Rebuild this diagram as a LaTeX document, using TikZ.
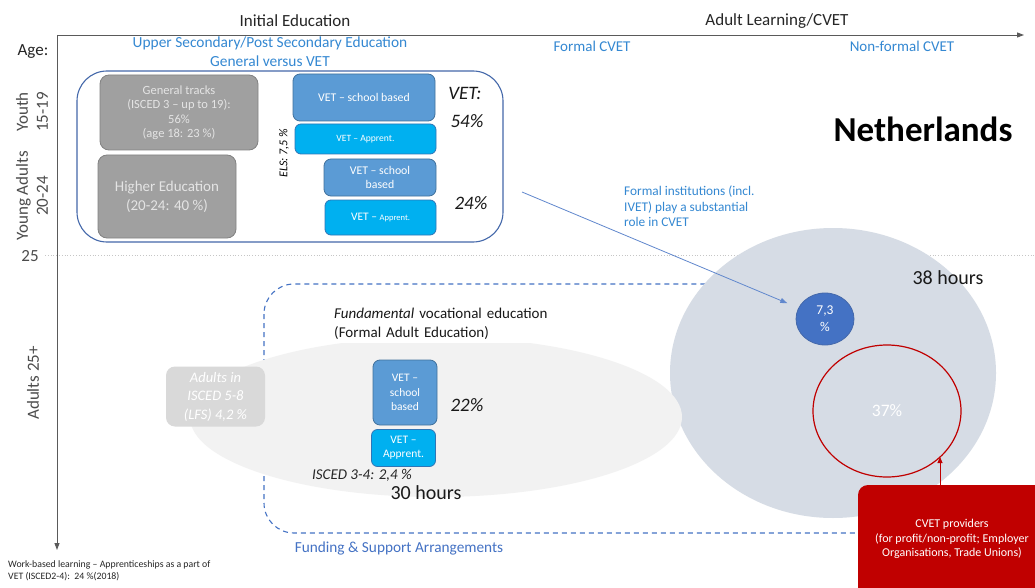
\documentclass[tikz,border=0pt]{standalone}
\usepackage{fontspec}
\setmainfont{Carlito}
\usetikzlibrary{arrows.meta,shapes.geometric}
\definecolor{txtblue}{RGB}{52,136,210}
\definecolor{fundblue}{RGB}{68,114,196}
\definecolor{frameblue}{RGB}{68,104,170}
\definecolor{boxgray}{RGB}{160,160,160}
\definecolor{boxgrayline}{RGB}{130,130,130}
\definecolor{boxtxt}{RGB}{228,228,228}
\definecolor{schoolblue}{RGB}{91,155,213}
\definecolor{schoolline}{RGB}{65,113,156}
\definecolor{apprblue}{RGB}{0,176,240}
\definecolor{apprline}{RGB}{46,117,182}
\definecolor{bigcirc}{RGB}{214,220,229}
\definecolor{ellfill}{RGB}{242,242,242}
\definecolor{lightbox}{RGB}{217,217,217}
\definecolor{darkred}{RGB}{192,0,0}
\definecolor{smallcirc}{RGB}{68,114,196}
\definecolor{axisgray}{RGB}{90,90,90}
\newcommand{\fsz}[2]{\fontsize{#1}{#2}\selectfont}
\tikzset{
  graybox/.style={draw=boxgrayline, fill=boxgray, rounded corners=9, text=boxtxt, align=center, line width=0.8},
  schoolbox/.style={draw=schoolline, fill=schoolblue, rounded corners=7, text=white, align=center, line width=0.8, font=\fsz{11.8}{14}},
  apprbox/.style={draw=apprline, fill=apprblue, rounded corners=6, text=white, align=center, line width=0.8, font=\fsz{9.6}{11}},
  bluelabel/.style={text=txtblue},
  axisarrow/.style={draw=axisgray, line width=0.9, -{Triangle[length=7pt,width=5pt]}},
  plain/.style={inner sep=0},
}
\begin{document}
\begin{tikzpicture}[x=1pt,y=-1pt]
\path[use as bounding box, fill=white] (0,0) rectangle (1035,588);
% dotted 25 line
\draw[gray!45, dotted, line width=0.8] (45,255) -- (1035,255);
% axes
\coordinate (origin) at (57,35);
\coordinate (xend) at (1024,35);
\coordinate (yend) at (57,550);
\draw[axisarrow] (origin) -- (xend);
\draw[axisarrow] (origin) -- (yend);
% axis labels
\node[plain, font=\fsz{17}{20}, text=black!85] (ie) at (295,21) {Initial Education};
\node[plain, font=\fsz{17}{20}, text=black!85] (al) at (777,21) {Adult Learning/CVET};
\node[plain, font=\fsz{17}{20}, text=black!85] (age) at (33,52) {Age:};
\node[plain, font=\fsz{17}{20}, text=black!70, rotate=90, align=center] (youth) at (32,112) {Youth\\15-19};
\node[plain, font=\fsz{17}{20}, text=black!70, rotate=90, align=center] (young) at (32,196) {Young Adults\\20-24};
\node[plain, font=\fsz{17}{20}, text=black!70] (q25) at (30,256) {25};
\node[plain, font=\fsz{17}{20}, text=black!70, rotate=90] (adults) at (33,383) {Adults 25+};
% blue headings
\node[plain, bluelabel, font=\fsz{15.4}{18}] (us) at (270,43) {Upper Secondary/Post Secondary Education};
\node[plain, bluelabel, font=\fsz{15.4}{18}] (gv) at (270,61) {General versus VET};
\node[plain, bluelabel, font=\fsz{15}{18}] (fc) at (592,46) {Formal CVET};
\node[plain, bluelabel, font=\fsz{15}{18}] (nfc) at (902,46) {Non-formal CVET};
% initial education frame
\draw[frameblue, line width=1.1, rounded corners=30] (77,71) rectangle (503,242);
\node[graybox, minimum width=158, minimum height=75, font=\fsz{12.5}{14.5}] (gen) at (179,112.5) {General tracks\\(ISCED 3 -- up to 19):\\56\%\\(age 18: 23 \%)};
\node[graybox, minimum width=138, minimum height=83, font=\fsz{15}{19}] (he) at (167,196.5) {Higher Education\\(20-24: 40 \%)};
\node[schoolbox, minimum width=142, minimum height=47] (vs1) at (364,97.5) {VET -- school based};
\node[apprbox, minimum width=141, minimum height=30] (va1) at (365.5,139) {VET -- Apprent.};
\node[schoolbox, minimum width=112, minimum height=37] (vs2) at (380,177.5) {VET -- school\\based};
\node[apprbox, minimum width=111, minimum height=35, font=\fsz{11.5}{13}] (va2) at (380.5,217.5) {VET -- {\fsz{8.5}{10}Apprent.}};
\node[plain, font=\fsz{12}{14}\itshape, rotate=90] (els) at (284,153) {ELS: 7,5 \%};
\node[plain, font=\fsz{19}{22}\itshape, text=black!90] (vetl) at (465,93) {VET:};
\node[plain, font=\fsz{19}{22}\itshape, text=black!90] (p54) at (467,121) {54\%};
\node[plain, font=\fsz{19}{22}\itshape, text=black!90] (p24) at (471,203) {24\%};
% Netherlands
\node[plain, font=\fsz{35}{40}\bfseries] (nl) at (923,129) {Netherlands};
\node[plain, bluelabel, font=\fsz{13.3}{15.5}, align=left, anchor=north west] (fi) at (624,186) {Formal institutions (incl.\\IVET) play a substantial\\role in CVET};
% dashed funding frame
\draw[fundblue, dashed, dash pattern=on 5pt off 4pt, line width=1.1, rounded corners=30] (264,284) rectangle (900,533);
% big circle
\fill[bigcirc] (833,373) ellipse [x radius=163, y radius=145];
% adult education ellipse
\fill[ellfill] (436,417) ellipse [x radius=246, y radius=80];
\node[fill=white, anchor=south west, inner xsep=8, inner ysep=3, text width=240, align=left, font=\fsz{15}{19}, text=black!90] (fund) at (326,343) {\textit{Fundamental} vocational education\\(Formal Adult Education)};
\node[fill=lightbox, rounded corners=9, minimum width=99, minimum height=60, text=white, align=center, font=\fsz{14.5}{18.5}\itshape] (adl) at (215.5,396.5) {Adults in\\ISCED 5-8\\(LFS) 4,2 \%};
\node[schoolbox, minimum width=64, minimum height=65, font=\fsz{11.5}{14.5}] (vs3) at (405,392.5) {VET --\\school\\based};
\node[apprbox, minimum width=64, minimum height=37, font=\fsz{11.5}{14}] (va3) at (403.5,448) {VET --\\Apprent.};
\node[plain, font=\fsz{19}{22}\itshape, text=black!90] (p22) at (467,405) {22\%};
\node[plain, font=\fsz{15}{17}\itshape, text=black!85] (isc) at (362,475) {ISCED 3-4: 2,4 \%};
\node[plain, font=\fsz{20}{22}, text=black!90] (h30) at (426,493) {30 hours};
\node[plain, text=fundblue, font=\fsz{15.3}{18}] (fsa) at (399,548) {Funding \& Support Arrangements};
% CVET circles
\node[plain, font=\fsz{20}{22}, text=black!90] (h38) at (948,278) {38 hours};
\node[draw=frameblue, fill=smallcirc, ellipse, minimum width=58, minimum height=52, inner sep=0, text=white, align=center, font=\fsz{13.5}{17}, line width=0.8] (c73) at (825,319) {7,3\\\%};
\draw[darkred, line width=1.2] (887,411) ellipse [x radius=74, y radius=66];
\node[plain, text=white, font=\fsz{17.5}{20}] (p37) at (887,411) {37\%};
% red provider box
\fill[darkred, rounded corners=10] (858,485) rectangle (1045,600);
\node[plain, text=white, align=center, font=\fsz{12}{14.5}] (prov) at (952,539) {CVET providers\\(for profit/non-profit; Employer\\Organisations, Trade Unions)};
\coordinate (provtop) at (940,485);
\coordinate (redcircbot) at (940,457);
\draw[darkred, line width=1, -{Triangle[length=6pt,width=5pt]}] (provtop) -- (redcircbot);
% arrow from formal institutions
\coordinate (fistart) at (522,192);
\draw[fundblue!85, line width=0.8, -{Triangle[length=7pt,width=5pt]}, shorten >=12pt] (fistart) -- (c73);
% footer
\node[plain, anchor=north west, align=left, font=\fsz{9.8}{12.5}, text=black!85] (foot) at (8,560) {Work-based learning -- Apprenticeships as a part of\\VET (ISCED2-4):\ \ 24 \%(2018)};
\end{tikzpicture}
\end{document}
